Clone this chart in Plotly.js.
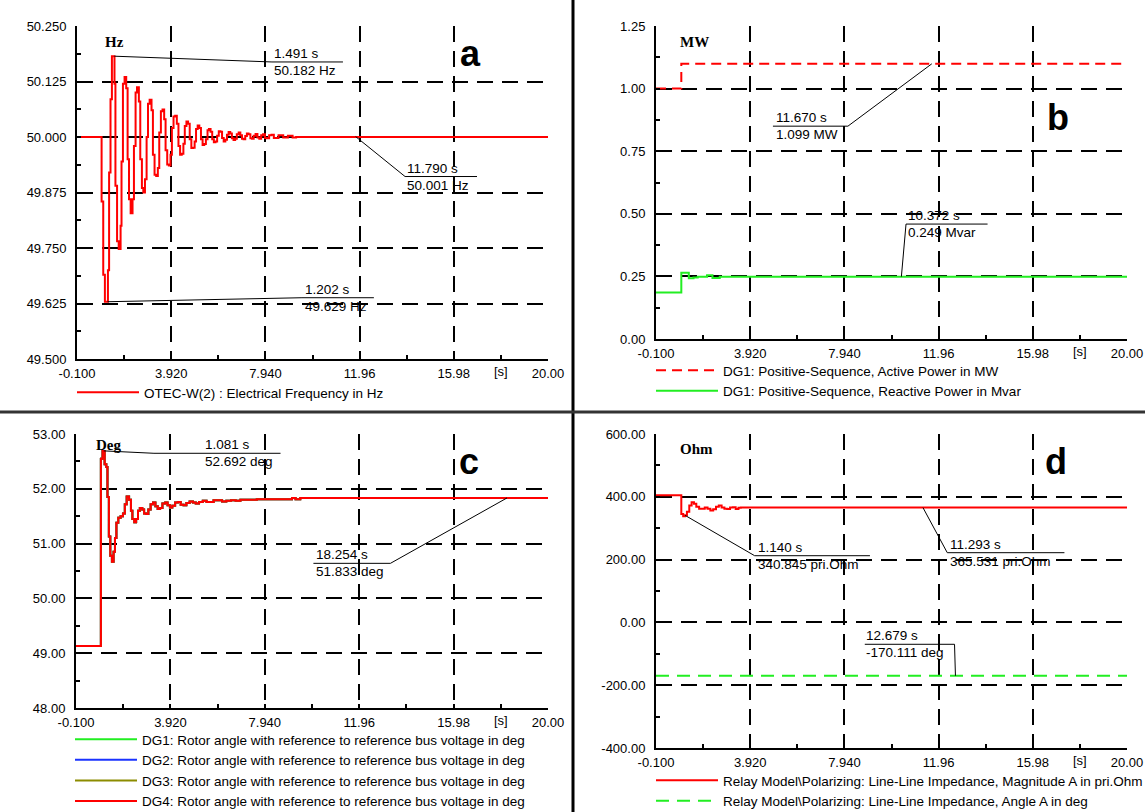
<!DOCTYPE html>
<html>
<head>
<meta charset="utf-8">
<script src="https://cdn.plot.ly/plotly-3.0.1.min.js"></script>
<style>
html,body{margin:0;padding:0;background:#fff;overflow:hidden;}
#chart{width:1145px;height:812px;}
</style>
</head>
<body>
<div id="chart"></div>
<script>
// ---------- shared time axis ----------
const xTickVals = [-0.1, 3.92, 7.94, 11.96, 15.98, 20.0];
const xTickText = ['-0.100', '3.920', '7.940', '11.96', '15.98', '20.00'];
const xMinorStart = 1.91, xMinorStep = 4.02;
const xUnitPos = 17.99;
const xUnitText = '[s]';

// ---------- panel a : frequency ----------
const aTickVals = [49.5, 49.625, 49.75, 49.875, 50.0, 50.125, 50.25];
const aTickText = ['49.500', '49.625', '49.750', '49.875', '50.000', '50.125', '50.250'];
const tA = [-0.1, 0.95, 1.02, 1.09, 1.22, 1.27, 1.33, 1.39, 1.50, 1.54, 1.61, 1.68, 1.76, 1.80, 1.86, 1.93,
  2.00, 2.06, 2.12, 2.19, 2.27, 2.33, 2.40, 2.46, 2.54, 2.60, 2.67, 2.73, 2.80, 2.87, 2.93, 3.00,
  3.08, 3.14, 3.21, 3.28, 3.35, 3.41, 3.48, 3.55, 3.62, 3.68, 3.75, 3.82, 3.89, 3.95, 4.02, 4.09,
  4.16, 4.23, 4.30, 4.37, 4.44, 4.50, 4.57, 4.64, 4.71, 4.78, 4.85, 4.92, 4.98, 5.05, 5.12, 5.19,
  5.26, 5.33, 5.40, 5.47, 5.53, 5.60, 5.67, 5.74, 5.81, 5.88, 5.95, 6.02, 6.09, 6.16, 6.23, 6.30,
  6.37, 6.44, 6.51, 6.58, 6.65, 6.72, 6.80, 6.87, 6.94, 7.01, 7.08, 7.15, 7.22, 7.30, 7.37, 7.44,
  7.52, 7.60, 7.68, 7.76, 7.84, 7.92, 8.00, 8.10, 8.20, 8.30, 8.40, 8.50, 8.60, 8.70, 8.80, 8.90,
  9.00, 9.10, 9.25, 20.0];
const fA = [50.000, 49.855, 49.690, 49.629, 49.700, 49.920, 50.085, 50.182, 50.120, 49.890, 49.765, 49.748, 49.800, 49.945, 50.120, 50.135,
  50.110, 49.950, 49.860, 49.828, 49.860, 49.980, 50.100, 50.112, 50.080, 49.950, 49.885, 49.875, 49.905, 50.000, 50.075, 50.084,
  50.060, 49.960, 49.915, 49.912, 49.930, 50.010, 50.058, 50.062, 50.040, 49.970, 49.938, 49.936, 49.960, 50.020, 50.046, 50.048,
  50.030, 49.980, 49.960, 49.962, 49.985, 50.025, 50.035, 50.030, 49.995, 49.975, 49.976, 49.990, 50.018, 50.026, 50.020, 49.995,
  49.982, 49.984, 49.995, 50.015, 50.018, 50.012, 49.995, 49.988, 49.990, 50.003, 50.013, 50.012, 49.998, 49.990, 49.994, 50.005,
  50.011, 50.008, 49.997, 49.993, 49.996, 50.006, 50.010, 50.004, 49.996, 49.995, 50.002, 50.008, 50.006, 49.997, 49.996, 50.003,
  50.007, 49.999, 49.996, 50.004, 50.006, 49.998, 49.997, 50.004, 50.005, 49.998, 49.998, 50.004, 50.004, 49.999, 49.999, 50.003,
  50.003, 49.999, 50.000, 50.000];

// ---------- panel b : power ----------
const bTickVals = [0, 0.25, 0.5, 0.75, 1.0, 1.25];
const bTickText = ['0.00', '0.25', '0.50', '0.75', '1.00', '1.25'];
const tBp = [-0.1, 0.98, 20.0];
const pB = [1.000, 1.099, 1.099];
const tBq = [-0.1, 0.98, 1.30, 1.50, 1.68, 2.08, 2.31, 2.62, 20.0];
const qB = [0.186, 0.265, 0.243, 0.246, 0.249, 0.255, 0.244, 0.249, 0.249];

// ---------- panel c : rotor angle ----------
const cTickVals = [48, 49, 50, 51, 52, 53];
const cTickText = ['48.00', '49.00', '50.00', '51.00', '52.00', '53.00'];
const tC = [-0.1, 0.96, 1.03, 1.12, 1.19, 1.24, 1.30, 1.36, 1.43, 1.50, 1.56, 1.62, 1.70, 1.80, 1.90, 1.98,
  2.06, 2.16, 2.24, 2.30, 2.38, 2.46, 2.54, 2.62, 2.72, 2.80, 2.88, 2.98, 3.08, 3.18, 3.28, 3.38,
  3.48, 3.58, 3.70, 3.80, 3.90, 4.00, 4.12, 4.24, 4.36, 4.48, 4.60, 4.74, 4.88, 5.00, 5.14, 5.30,
  5.46, 5.60, 5.76, 5.96, 6.12, 6.30, 6.50, 6.70, 6.90, 7.20, 7.60, 8.00, 8.40, 8.80, 9.10, 9.25, 9.45, 20.0];
const angC = [49.13, 52.55, 52.692, 52.45, 52.40, 51.85, 51.13, 50.78, 50.67, 50.85, 51.10, 51.38, 51.47, 51.50, 51.55, 51.72,
  51.86, 51.80, 51.60, 51.45, 51.39, 51.45, 51.60, 51.65, 51.62, 51.55, 51.54, 51.62, 51.72, 51.75, 51.68, 51.63,
  51.65, 51.73, 51.75, 51.70, 51.66, 51.69, 51.75, 51.76, 51.71, 51.70, 51.74, 51.77, 51.75, 51.73, 51.76, 51.78,
  51.76, 51.76, 51.79, 51.79, 51.77, 51.78, 51.79, 51.78, 51.80, 51.80, 51.81, 51.81, 51.81, 51.81, 51.83, 51.81, 51.833, 51.833];
const cNames = ['DG1', 'DG2', 'DG3', 'DG4'];
const cColors = ['#22ee22', '#1a33ff', '#8c8c00', '#ff0000'];

// ---------- panel d : impedance ----------
const dTickVals = [-400, -200, 0, 200, 400, 600];
const dTickText = ['-400.00', '-200.00', '0.00', '200.00', '400.00', '600.00'];
const tDz = [-0.1, 0.98, 1.06, 1.14, 1.22, 1.32, 1.42, 1.52, 1.62, 1.74, 1.86, 1.98, 2.10, 2.22, 2.34, 2.46,
  2.58, 2.70, 2.82, 2.94, 3.06, 3.18, 3.30, 3.42, 3.52, 20.0];
const zD = [405, 345, 338, 341, 352, 372, 383, 378, 368, 362, 362, 366, 362, 356, 360, 368,
  372, 366, 362, 361, 366, 367, 361, 365, 365.531, 365.531];
const tDa = [-0.1, 20.0];
const angD = [-170.111, -170.111];

// ---------- callouts (value readouts) ----------
// [axis suffix, point t, point v, junction t, junction v, underline end t, text left t, line1, line2]
const callouts = [
  ['', 1.491, 50.182, 8.22, 50.169, 11.25, 8.26, '1.491 s', '50.182 Hz'],
  ['', 11.79, 50.001, 13.90, 49.911, 16.97, 13.94, '11.790 s', '50.001 Hz'],
  ['', 1.202, 49.629, 9.50, 49.638, 12.57, 9.59, '1.202 s', '49.629 Hz'],
  ['2', 11.67, 1.099, 8.09, 0.850, 4.89, 4.98, '11.670 s', '1.099 MW'],
  ['2', 10.372, 0.249, 10.57, 0.459, 14.05, 10.61, '10.372 s', '0.249 Mvar'],
  ['3', 1.081, 52.692, 3.22, 52.648, 8.61, 5.35, '1.081 s', '52.692 deg'],
  ['3', 18.254, 51.833, 13.29, 50.64, 10.01, 10.08, '18.254 s', '51.833 deg'],
  ['4', 1.14, 340.845, 4.11, 212.4, 9.03, 4.21, '1.140 s', '340.845 pri.Ohm'],
  ['4', 11.293, 365.531, 12.33, 222.0, 17.33, 12.40, '11.293 s', '365.531 pri.Ohm'],
  ['4', 12.679, -170.111, 12.64, -69.7, 8.81, 8.84, '12.679 s', '-170.111 deg']
];

const FONT = 'Liberation Sans, Arial, sans-serif';
const SERIF = 'Liberation Serif, Times New Roman, serif';
const W = 1145, H = 812;
const px = v => v / W;
const py = v => 1 - v / H;

function xAxis(l, r, anchor) {
  return {
    domain: [px(l), px(r)], anchor: anchor, range: [-0.1, 20.0],
    tickmode: 'array', tickvals: xTickVals, ticktext: xTickText,
    ticks: 'inside', ticklen: 4, tickwidth: 2, tickcolor: '#000',
    showgrid: true, gridcolor: '#000', gridwidth: 2, griddash: '16px,9px',
    showline: true, linecolor: '#000', linewidth: 2, zeroline: false,
    tickfont: {family: FONT, size: 13, color: '#000'}, ticklabelstandoff: 1,
    minor: {tickmode: 'linear', tick0: xMinorStart, dtick: xMinorStep, ticks: 'inside', ticklen: 4, tickwidth: 2, tickcolor: '#000', showgrid: false},
    fixedrange: true
  };
}
function yAxis(top, bottom, anchor, vals, text) {
  const step = vals[1] - vals[0];
  return {
    domain: [py(bottom), py(top)], anchor: anchor, range: [vals[0], vals[vals.length - 1]],
    tickmode: 'array', tickvals: vals, ticktext: text,
    ticks: 'inside', ticklen: 4, tickwidth: 2, tickcolor: '#000',
    showgrid: true, gridcolor: '#000', gridwidth: 2, griddash: '16px,9px',
    showline: true, linecolor: '#000', linewidth: 2, zeroline: false,
    tickfont: {family: FONT, size: 13, color: '#000'}, ticklabelstandoff: 6,
    minor: {tickmode: 'linear', tick0: vals[0] + step / 2, dtick: step, ticks: 'inside', ticklen: 4, tickwidth: 2, tickcolor: '#000', showgrid: false},
    fixedrange: true
  };
}

const traces = [
  {x: tA, y: fA, xaxis: 'x', yaxis: 'y', type: 'scatter', mode: 'lines', line: {color: '#ff0000', width: 2, shape: 'hv'},
   name: 'OTEC-W(2) : Electrical Frequency in Hz', legend: 'legend', legendgroup: 'a1'},
  {x: tBp, y: pB, xaxis: 'x2', yaxis: 'y2', type: 'scatter', mode: 'lines', line: {color: '#ff0000', width: 2, shape: 'hv', dash: '10px,6px'},
   name: 'DG1: Positive-Sequence, Active Power in MW', legend: 'legend2', legendgroup: 'b1'},
  {x: tBq, y: qB, xaxis: 'x2', yaxis: 'y2', type: 'scatter', mode: 'lines', line: {color: '#22ee22', width: 2, shape: 'hv'},
   name: 'DG1: Positive-Sequence, Reactive Power in Mvar', legend: 'legend2', legendgroup: 'b2'}
];
cNames.forEach((n, i) => traces.push({
  x: tC, y: angC, xaxis: 'x3', yaxis: 'y3', type: 'scatter', mode: 'lines', line: {color: cColors[i], width: 2, shape: 'hv'},
  name: n + ': Rotor angle with reference to reference bus voltage in deg', legend: 'legend3', legendgroup: 'c' + i
}));
traces.push(
  {x: tDz, y: zD, xaxis: 'x4', yaxis: 'y4', type: 'scatter', mode: 'lines', line: {color: '#ff0000', width: 2, shape: 'hv'},
   name: 'Relay Model\\Polarizing: Line-Line Impedance, Magnitude A in pri.Ohm', legend: 'legend4', legendgroup: 'd1'},
  {x: tDa, y: angD, xaxis: 'x4', yaxis: 'y4', type: 'scatter', mode: 'lines', line: {color: '#22ee22', width: 2, dash: '13px,8px'},
   name: 'Relay Model\\Polarizing: Line-Line Impedance, Angle A in deg', legend: 'legend4', legendgroup: 'd2'}
);

const annotations = [];
const shapes = [
  {type: 'line', xref: 'paper', yref: 'paper', x0: px(573), x1: px(573), y0: 0, y1: 1, line: {color: '#000', width: 3}},
  {type: 'line', xref: 'paper', yref: 'paper', x0: 0, x1: 1, y0: py(412), y1: py(412), line: {color: '#333', width: 3}}
];

// "[s]" unit labels on each time axis
['', '2', '3', '4'].forEach(s => annotations.push({
  xref: 'x' + s, yref: 'y' + s + ' domain', x: xUnitPos, y: 0, yanchor: 'top', yshift: -3,
  text: xUnitText, showarrow: false, font: {family: FONT, size: 13, color: '#000'}
}));

// panel letters
[['a', 470, 76], ['b', 1058, 140], ['c', 469, 484], ['d', 1056, 484]].forEach(p => annotations.push({
  xref: 'paper', yref: 'paper', x: px(p[1]), y: py(p[2]), xanchor: 'center', yanchor: 'bottom',
  text: '<b>' + p[0] + '</b>', showarrow: false, font: {family: FONT, size: 36, color: '#000'}
}));
// unit labels
[['Hz', 114.5, 52], ['MW', 694.5, 52], ['Deg', 108.7, 455], ['Ohm', 696.5, 459]].forEach(p => annotations.push({
  xref: 'paper', yref: 'paper', x: px(p[1]), y: py(p[2]), xanchor: 'center', yanchor: 'bottom',
  text: '<b>' + p[0] + '</b>', showarrow: false, font: {family: SERIF, size: 15, color: '#000'}
}));

callouts.forEach(c => {
  const xr = 'x' + c[0], yr = 'y' + c[0];
  shapes.push({type: 'line', xref: xr, yref: yr, x0: c[1], y0: c[2], x1: c[3], y1: c[4], line: {color: '#000', width: 1}});
  shapes.push({type: 'line', xref: xr, yref: yr, x0: c[3], y0: c[4], x1: c[5], y1: c[4], line: {color: '#000', width: 1}});
  annotations.push({xref: xr, yref: yr, x: c[6], y: c[4], xanchor: 'left', yanchor: 'bottom', showarrow: false,
    text: c[7], font: {family: FONT, size: 13.5, color: '#000'}, borderpad: 0});
  annotations.push({xref: xr, yref: yr, x: c[6], y: c[4], xanchor: 'left', yanchor: 'top', showarrow: false,
    text: c[8], font: {family: FONT, size: 13.5, color: '#000'}, borderpad: 0});
});

function legendAt(x, top) {
  return {x: px(x), y: py(top), xanchor: 'left', yanchor: 'top', bgcolor: 'rgba(0,0,0,0)', borderwidth: 0,
    font: {family: FONT, size: 13.5, color: '#000'}, itemwidth: 62, tracegroupgap: 0, itemclick: false, itemdoubleclick: false};
}

const layout = {
  width: W, height: H, margin: {l: 0, r: 0, t: 0, b: 0, autoexpand: false}, paper_bgcolor: '#fff', plot_bgcolor: '#fff',
  showlegend: true,
  xaxis: xAxis(77, 548, 'y'),
  yaxis: yAxis(26, 359, 'x', aTickVals, aTickText),
  xaxis2: xAxis(656, 1127, 'y2'),
  yaxis2: yAxis(26, 339, 'x2', bTickVals, bTickText),
  xaxis3: xAxis(76, 548, 'y3'),
  yaxis3: yAxis(434, 708, 'x3', cTickVals, cTickText),
  xaxis4: xAxis(656, 1127, 'y4'),
  yaxis4: yAxis(434, 748, 'x4', dTickVals, dTickText),
  legend: legendAt(72, 377),
  legend2: legendAt(651, 355),
  legend3: legendAt(70, 724),
  legend4: legendAt(651, 765),
  annotations: annotations,
  shapes: shapes
};

Plotly.newPlot('chart', traces, layout, {displayModeBar: false, staticPlot: true});
</script>
</body>
</html>
